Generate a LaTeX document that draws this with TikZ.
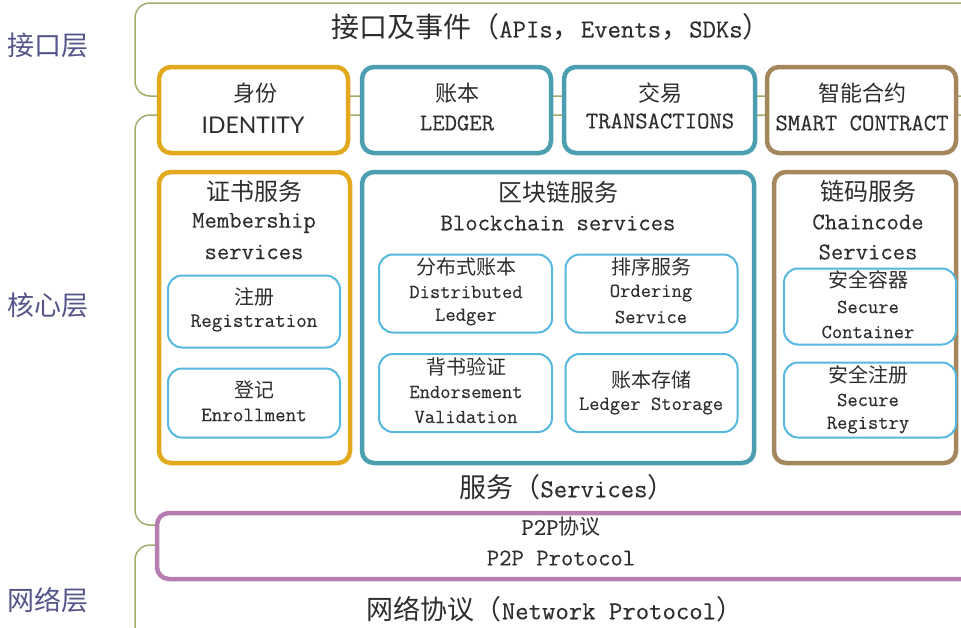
\documentclass[tikz,border=0pt]{standalone}
\usepackage{fontspec}
\setmonofont{Latin Modern Mono}[BoldFont={Latin Modern Mono}, BoldFeatures={FakeBold=0.25}]
\newfontfamily\cjk{Noto Sans CJK SC}
\newfontfamily\latofont{Lato}
\newcommand\fs[1]{\fontsize{#1}{#1}\selectfont}
\newcommand\zh[2]{{\cjk\mdseries\fs{#1}#2}}
\definecolor{cgold}{HTML}{E2A91C}
\definecolor{cteal}{HTML}{4C9FB1}
\definecolor{cbrown}{HTML}{A5875E}
\definecolor{cmauve}{HTML}{B57DB2}
\definecolor{cinner}{HTML}{56B8DF}
\definecolor{colive}{HTML}{A3AC6A}
\definecolor{ctext}{HTML}{2E2E2E}
\definecolor{clabel}{HTML}{55558A}
\tikzset{
  outerbox/.style={draw, line width=4.5pt, rounded corners=12pt, fill=white, inner sep=0pt},
  innerbox/.style={draw=cinner, line width=2pt, rounded corners=14pt, fill=white, inner sep=0pt},
  lbl/.style={text=ctext, inner sep=0pt, anchor=center, font=\ttfamily\bfseries},
  layer/.style={text=clabel, inner sep=0pt, anchor=center},
  bracket/.style={draw=colive, line width=1.5pt, rounded corners=15pt}
}
\begin{document}
\begin{tikzpicture}[x=1pt,y=-1pt]
\useasboundingbox (0,0) rectangle (961,627);
\clip (0,0) rectangle (961,627);
\fill[white] (0,0) rectangle (961,627);

% layer brackets
\draw[bracket] (990,3) -- (135,3) -- (135,96) -- (990,96);
\draw[bracket] (990,115) -- (135,115) -- (135,525) -- (200,525);
\draw[bracket] (200,545) -- (135,545) -- (135,660);

% layer labels
\node[layer] (L1) at (48,45) {\zh{27}{接口层}};
\node[layer] (L2) at (48,305) {\zh{27}{核心层}};
\node[layer] (L3) at (48,600) {\zh{27}{网络层}};

% title
\node[lbl] (title) at (551,27) {\zh{28}{接口及事件（}{\fs{26}APIs}\zh{28}{，}{\fs{26}Events}\zh{28}{，}{\fs{26}SDKs}\zh{28}{）}};

% top row
\node[outerbox, draw=cgold, minimum width=189, minimum height=86] (idb) at (253.5,110) {};
\node[outerbox, draw=cteal, minimum width=189, minimum height=86] (ledb) at (456.5,110) {};
\node[outerbox, draw=cteal, minimum width=191, minimum height=86] (trb) at (659.5,110) {};
\node[outerbox, draw=cbrown, minimum width=189, minimum height=86] (scb) at (861.5,110) {};

\node[lbl] (id1) at (255,93) {\zh{22}{身份}};
\node[lbl] (id2) at (253,125) {\latofont\mdseries\fs{23}IDENTITY};
\node[lbl] (le1) at (457,93) {\zh{22}{账本}};
\node[lbl] (le2) at (457,123) {\fs{24}LEDGER};
\node[lbl] (tr1) at (660,93) {\zh{22}{交易}};
\node[lbl] (tr2) at (660,121) {\fs{24}TRANSACTIONS};
\node[lbl] (sc1) at (862,93) {\zh{22}{智能合约}};
\node[lbl] (sc2) at (862,123) {\fs{24}SMART CONTRACT};

% core row
\node[outerbox, draw=cgold, minimum width=191, minimum height=291] (memb) at (254.5,317.5) {};
\node[outerbox, draw=cteal, minimum width=392, minimum height=291] (bcb) at (558,317.5) {};
\node[outerbox, draw=cbrown, minimum width=182, minimum height=291] (ccb) at (865,317.5) {};

\node[lbl] (m1) at (254,191) {\zh{24}{证书服务}};
\node[lbl] (m2) at (254,223) {\fs{24}Membership};
\node[lbl] (m3) at (254,252) {\fs{24}services};

\node[innerbox, minimum width=172, minimum height=72] (reg) at (254,311.5) {};
\node[lbl] (r1) at (254,297) {\zh{20}{注册}};
\node[lbl] (r2) at (254,323) {\fs{20.5}Registration};
\node[innerbox, minimum width=172, minimum height=69] (enr) at (254,403) {};
\node[lbl] (e1) at (254,390) {\zh{20}{登记}};
\node[lbl] (e2) at (254,415) {\fs{20.5}Enrollment};

\node[lbl] (b1) at (558,192) {\zh{24}{区块链服务}};
\node[lbl] (b2) at (558,223) {\fs{24}Blockchain services};

\node[innerbox, minimum width=173, minimum height=78] (dl) at (465.5,293.5) {};
\node[lbl] (d1) at (466,267) {\zh{20}{分布式账本}};
\node[lbl] (d2) at (466,292) {\fs{20}Distributed};
\node[lbl] (d3) at (466,317) {\fs{20}Ledger};

\node[innerbox, minimum width=172, minimum height=78] (ord) at (651.5,293.5) {};
\node[lbl] (o1) at (651,267) {\zh{20}{排序服务}};
\node[lbl] (o2) at (651,293) {\fs{20}Ordering};
\node[lbl] (o3) at (651,317) {\fs{20}Service};

\node[innerbox, minimum width=173, minimum height=78] (end) at (465.5,393) {};
\node[lbl] (n1) at (466,367) {\zh{20}{背书验证}};
\node[lbl] (n2) at (466,392) {\fs{20}Endorsement};
\node[lbl] (n3) at (466,417) {\fs{20}Validation};

\node[innerbox, minimum width=172, minimum height=78] (lst) at (651.5,393) {};
\node[lbl] (s1) at (651,380) {\zh{20}{账本存储}};
\node[lbl] (s2) at (651,406) {\fs{20}Ledger Storage};

\node[lbl] (c1) at (868,191) {\zh{24}{链码服务}};
\node[lbl] (c2) at (868,222) {\fs{24}Chaincode};
\node[lbl] (c3) at (868,252) {\fs{24}Services};

\node[innerbox, minimum width=172, minimum height=76] (sct) at (870,306.5) {};
\node[lbl] (k1) at (868,280) {\zh{20}{安全容器}};
\node[lbl] (k2) at (868,307) {\fs{20}Secure};
\node[lbl] (k3) at (868,332) {\fs{20}Container};

\node[innerbox, minimum width=172, minimum height=75] (srg) at (870,400) {};
\node[lbl] (g1) at (868,375) {\zh{20}{安全注册}};
\node[lbl] (g2) at (868,400) {\fs{20}Secure};
\node[lbl] (g3) at (868,425) {\fs{20}Registry};

\node[lbl] (svc) at (567,487) {\zh{27}{服务（}{\fs{26}Services}\zh{27}{）}};

% network
\node[outerbox, draw=cmauve, minimum width=850, minimum height=66] (p2p) at (582,546) {};
\node[lbl] (p1) at (561,527) {{\fs{24}P2P}\zh{21}{协议}};
\node[lbl] (p2) at (561,558) {\fs{24}P2P Protocol};

\node[lbl] (net) at (555,609) {\zh{27}{网络协议（}{\fs{26}Network Protocol}\zh{27}{）}};
\end{tikzpicture}
\end{document}
